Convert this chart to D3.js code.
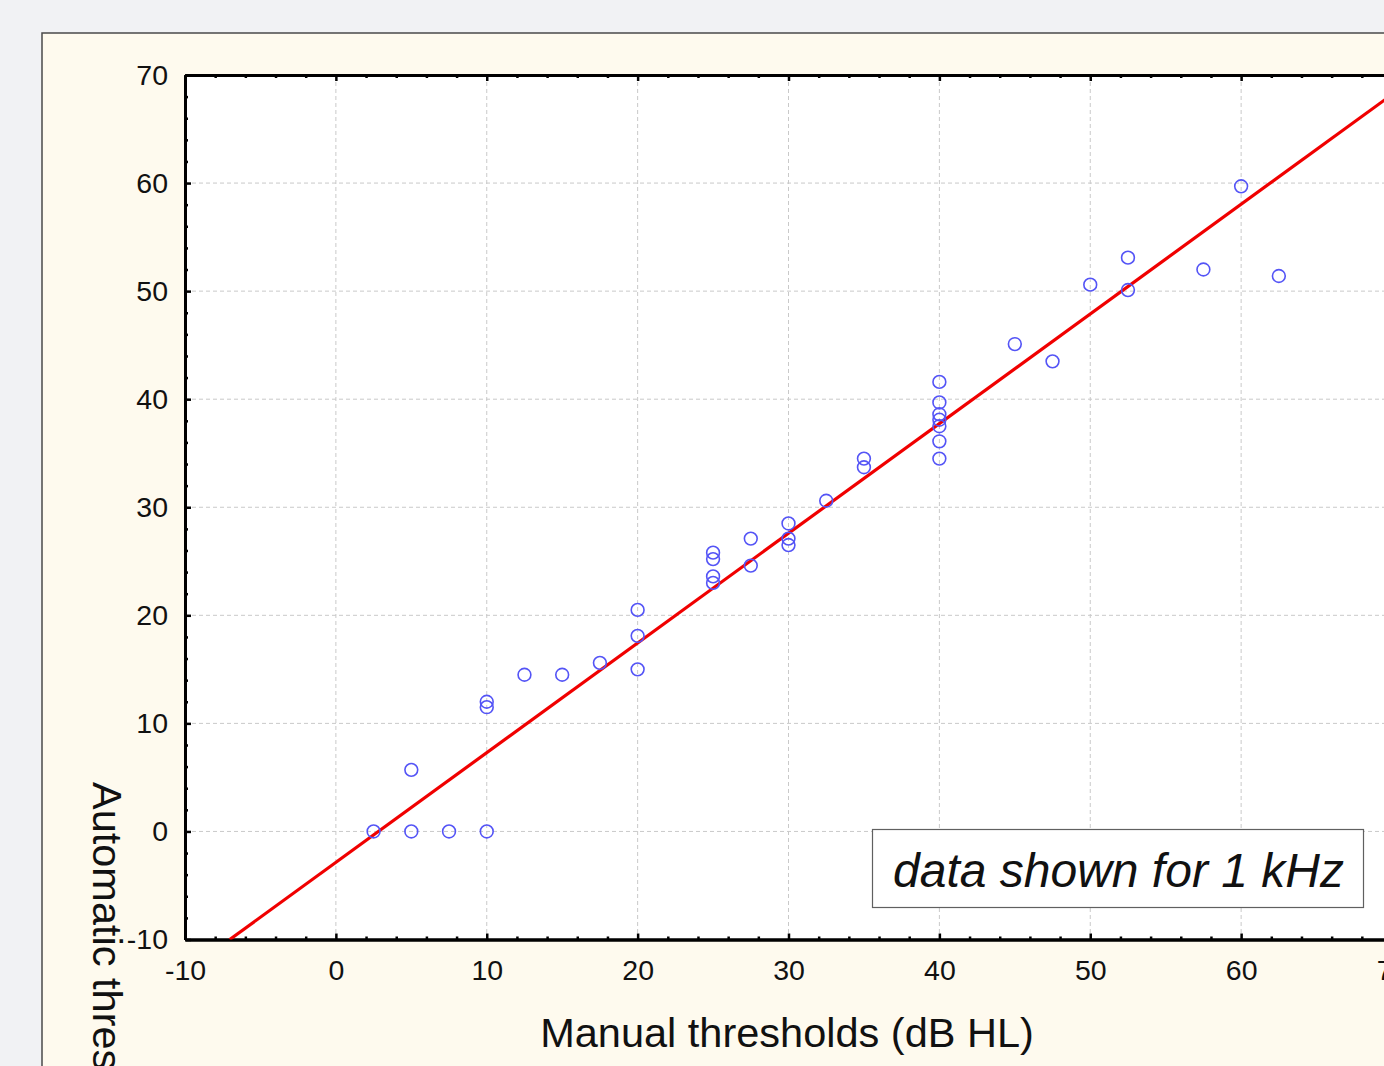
<!DOCTYPE html>
<html>
<head>
<meta charset="utf-8">
<script src="https://cdn.jsdelivr.net/npm/d3@7"></script>
<style>
  html, body { margin: 0; padding: 0; background: #f1f2f4; }
  svg { display: block; }
  text { font-family: "Liberation Sans", Arial, sans-serif; fill: #111; }
</style>
</head>
<body>
<svg id="chart" width="1384" height="1066"></svg>
<script>
// ---- data ----
const manualThresholds = [2.5, 5, 5, 7.5, 10, 10, 10, 12.5, 15, 17.5, 20, 20, 20,
  25, 25, 25, 25, 27.5, 27.5, 30, 30, 30, 32.5, 35, 35,
  40, 40, 40, 40, 40, 40, 40, 45, 47.5, 50, 52.5, 52.5, 57.5, 60, 62.5];
const automaticThresholds = [0, 5.7, 0, 0, 0, 12.0, 11.5, 14.5, 14.5, 15.6, 20.5, 18.1, 15.0,
  25.8, 25.2, 23.6, 23.0, 27.1, 24.6, 28.5, 27.1, 26.5, 30.6, 34.5, 33.7,
  41.6, 39.7, 38.6, 38.1, 37.5, 36.1, 34.5, 45.1, 43.5, 50.6, 53.1, 50.1, 52.0, 59.7, 51.4];
const fitLine = [{ intercept: -2.86, slope: 1.015 }];
const xMajorTicks = [-10, 0, 10, 20, 30, 40, 50, 60, 70];
const yMajorTicks = [-10, 0, 10, 20, 30, 40, 50, 60, 70];
const xTitle = "Manual thresholds (dB HL)";
const yTitle = "Automatic thresholds (dB HL)";
const noteText = "data shown for 1 kHz";

// ---- layout ----
const svg = d3.select("#chart");
const W = 1384, H = 1066;
const plot = { left: 185, top: 75, right: 1392, bottom: 939.5 };

svg.append("rect").attr("x", 0).attr("y", 0).attr("width", W).attr("height", H).attr("fill", "#f1f2f4");
svg.append("rect").attr("x", 42).attr("y", 33).attr("width", W).attr("height", H)
  .attr("fill", "#fefaee").attr("stroke", "#4a4a4a").attr("stroke-width", 1.5);

const x = d3.scaleLinear().domain([-10, 70]).range([plot.left, plot.right]);
const y = d3.scaleLinear().domain([-10, 70]).range([plot.bottom, plot.top]);

svg.append("rect").attr("x", plot.left).attr("y", plot.top)
  .attr("width", plot.right - plot.left).attr("height", plot.bottom - plot.top)
  .attr("fill", "#ffffff");

svg.append("defs").append("clipPath").attr("id", "clip")
  .append("rect").attr("x", plot.left).attr("y", plot.top)
  .attr("width", plot.right - plot.left).attr("height", plot.bottom - plot.top);

// grid
const grid = svg.append("g").attr("stroke", "#c9c9c9").attr("stroke-width", 1).attr("stroke-dasharray", "4,3");
grid.selectAll("line.v").data(xMajorTicks.slice(1, -1)).join("line")
  .attr("x1", d => x(d)).attr("x2", d => x(d)).attr("y1", plot.top).attr("y2", plot.bottom);
grid.selectAll("line.h").data(yMajorTicks.slice(1, -1)).join("line")
  .attr("y1", d => y(d)).attr("y2", d => y(d)).attr("x1", plot.left).attr("x2", plot.right);

// minor ticks
const minorX = d3.range(-10, 70.001, 2).filter(v => !xMajorTicks.includes(v));
const minorY = d3.range(-10, 70.001, 2).filter(v => !yMajorTicks.includes(v));
const fmt = d => String(d);

function styleAxis(g) {
  g.select(".domain").attr("stroke", "#000").attr("stroke-width", 3);
  g.selectAll(".tick line").attr("stroke", "#000").attr("stroke-width", 2.5);
  g.selectAll(".tick text").attr("font-size", 28.5).attr("fill", "#111")
    .attr("font-family", "Liberation Sans, Arial, sans-serif");
}

// bottom axis
const gB = svg.append("g").attr("transform", `translate(0,${plot.bottom})`);
gB.append("g").call(d3.axisBottom(x).tickValues(minorX).tickSize(-3).tickSizeOuter(0).tickFormat(""))
  .call(styleAxis);
gB.append("g").call(d3.axisBottom(x).tickValues(xMajorTicks).tickSize(-6).tickSizeOuter(0).tickPadding(20).tickFormat(fmt))
  .call(styleAxis);

// top axis
const gT = svg.append("g").attr("transform", `translate(0,${plot.top})`);
gT.append("g").call(d3.axisTop(x).tickValues(minorX).tickSize(-3).tickSizeOuter(0).tickFormat(""))
  .call(styleAxis);
gT.append("g").call(d3.axisTop(x).tickValues(xMajorTicks).tickSize(-6).tickSizeOuter(0).tickFormat(""))
  .call(styleAxis);

// left axis
const gL = svg.append("g").attr("transform", `translate(${plot.left},0)`);
gL.append("g").call(d3.axisLeft(y).tickValues(minorY).tickSize(-3).tickSizeOuter(0).tickFormat(""))
  .call(styleAxis);
gL.append("g").call(d3.axisLeft(y).tickValues(yMajorTicks).tickSize(-6).tickSizeOuter(0).tickPadding(17).tickFormat(fmt))
  .call(styleAxis);

// right axis (mostly off-canvas)
const gR = svg.append("g").attr("transform", `translate(${plot.right},0)`);
gR.append("g").call(d3.axisRight(y).tickValues(yMajorTicks).tickSize(-6).tickSizeOuter(0).tickFormat(""))
  .call(styleAxis);

// regression line
const fit = fitLine[0];
const xStart = (-10 - fit.intercept) / fit.slope;
svg.append("g").attr("clip-path", "url(#clip)")
  .append("line")
  .attr("x1", x(xStart)).attr("y1", y(fit.intercept + fit.slope * xStart))
  .attr("x2", x(70)).attr("y2", y(fit.intercept + fit.slope * 70))
  .attr("stroke", "#f00000").attr("stroke-width", 3.2);

// points
const pts = manualThresholds.map((m, i) => ({ m, a: automaticThresholds[i] }));
svg.append("g").selectAll("circle").data(pts).join("circle")
  .attr("cx", d => x(d.m)).attr("cy", d => y(d.a)).attr("r", 6.4)
  .attr("fill", "none").attr("stroke", "#5454f6").attr("stroke-width", 1.6);

// note box
svg.append("rect").attr("x", 872.5).attr("y", 829.5).attr("width", 491).attr("height", 78)
  .attr("fill", "#ffffff").attr("stroke", "#606060").attr("stroke-width", 1.2);
svg.append("text").attr("x", 893).attr("y", 887).attr("font-size", 48)
  .attr("font-style", "italic").text(noteText);

// axis titles
svg.append("text").attr("x", 787).attr("y", 1047).attr("text-anchor", "middle")
  .attr("font-size", 41.5).text(xTitle);
svg.append("text").attr("transform", "translate(93,782) rotate(90)")
  .attr("font-size", 41.5).text(yTitle);
</script>
</body>
</html>
